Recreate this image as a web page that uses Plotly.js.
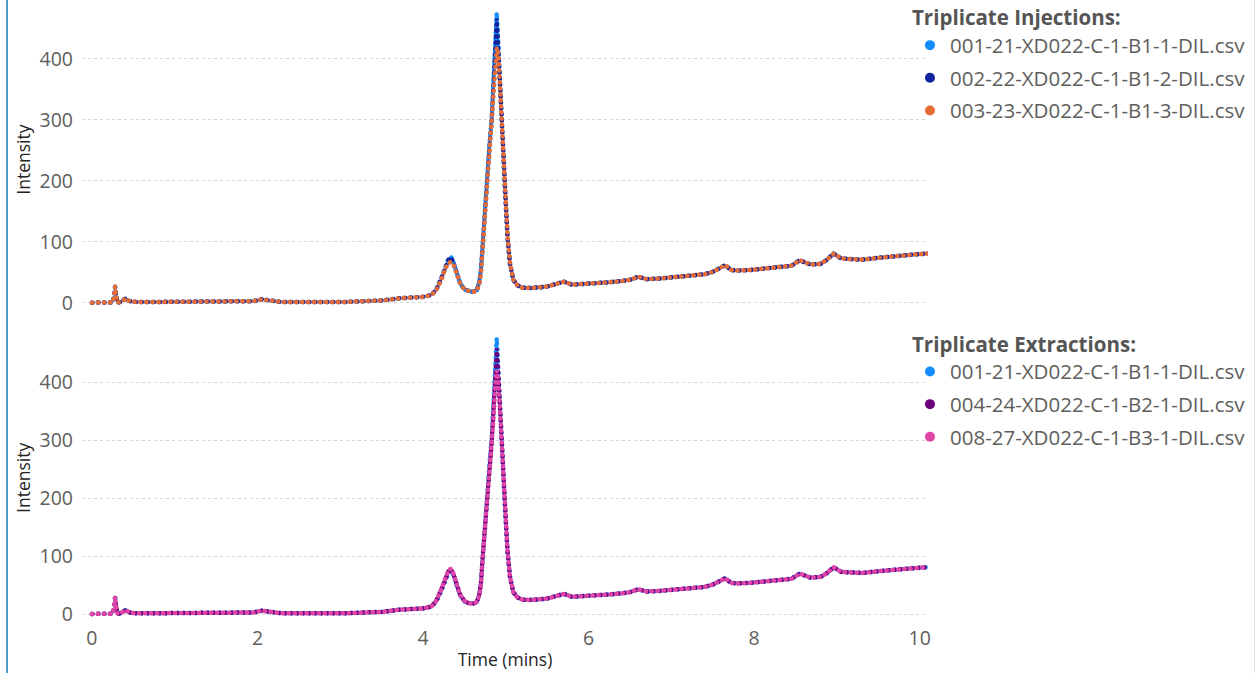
<!DOCTYPE html>
<html>
<head>
<meta charset="utf-8">
<script src="https://cdn.plot.ly/plotly-3.0.1.min.js"></script>
<style>
  html, body { margin: 0; padding: 0; background: #fff; }
  #wrap { position: relative; width: 1258px; height: 673px; overflow: hidden; }
  #chart { position: absolute; left: 0; top: 0; width: 1258px; height: 673px; }
  #lb { position: absolute; left: 6px; top: 0; width: 2px; height: 673px; background: #4a9cc6; }
  #rb { position: absolute; left: 1254px; top: 0; width: 1px; height: 673px; background: #e3e0e6; }
  .scatterlayer .js-line { stroke-linecap: round !important; }
</style>
</head>
<body>
<div id="wrap"><div id="chart"></div><div id="lb"></div><div id="rb"></div></div>
<script>
// Retention time (mins)
const time = [0, 0.1, 0.2, 0.25, 0.27, 0.28, 0.29, 0.31, 0.34, 0.38, 0.41, 0.44, 0.48, 0.6, 0.8, 1.0, 1.2, 1.4, 1.6, 1.8, 1.95, 2.05, 2.15, 2.3, 2.5, 2.7, 2.9, 3.1, 3.3, 3.5, 3.7, 3.9, 4.0, 4.1, 4.16, 4.22, 4.27, 4.31, 4.34, 4.37, 4.41, 4.45, 4.5, 4.55, 4.6, 4.65, 4.68, 4.70, 4.72, 4.75, 4.77, 4.80, 4.83, 4.85, 4.87, 4.89, 4.91, 4.93, 4.95, 4.97, 4.99, 5.02, 5.05, 5.09, 5.14, 5.2, 5.3, 5.4, 5.5, 5.6, 5.7, 5.8, 5.95, 6.1, 6.25, 6.4, 6.5, 6.6, 6.7, 6.85, 7.0, 7.2, 7.4, 7.5, 7.58, 7.65, 7.72, 7.8, 7.95, 8.1, 8.3, 8.45, 8.55, 8.6, 8.68, 8.8, 8.88, 8.96, 9.05, 9.15, 9.3, 9.5, 9.7, 9.9, 10.1];

// Series intensities
const s001 = [0.5, 0.5, 0.5, 1, 12, 27, 14, 0.5, 1.5, 5, 7.5, 4, 2, 1.5, 1.5, 1.5, 1.5, 1.5, 1.5, 1.5, 3, 6, 4, 1.5, 1.5, 2.5, 1.8, 1.8, 2, 4, 7.5, 9, 10, 13, 22, 40, 60, 73, 75, 66, 48, 32, 22, 19, 18, 21, 35, 55, 100, 150, 200, 255, 305, 355, 410, 475, 420, 355, 300, 240, 180, 110, 65, 38, 29, 25, 24.5, 25, 27, 31, 35, 30, 31, 32, 34, 36, 38, 43, 39, 40, 42, 44, 47, 51, 57, 62, 54, 53, 54, 56, 58, 61, 70, 68, 63, 64, 71, 81, 73, 72, 71, 74, 77, 79, 81];
const s002 = [0.5, 0.5, 0.5, 1, 12, 26, 14, 0.5, 1.5, 5, 7.5, 4, 2, 1.5, 1.5, 1.5, 1.5, 1.5, 1.5, 1.5, 3, 6, 4, 1.5, 1.5, 2.5, 1.8, 1.8, 2, 4, 7.5, 9, 10, 13, 22, 40, 60, 72, 74, 65, 48, 32, 22, 19, 18, 21, 34, 54, 98, 148, 198, 252, 300, 350, 402, 466, 415, 352, 298, 238, 178, 108, 64, 38, 29, 25, 24.5, 25, 27, 31, 35, 30, 31, 32, 34, 36, 38, 43, 39, 40, 42, 44, 47, 51, 57, 62, 54, 53, 54, 56, 58, 61, 70, 68, 63, 64, 71, 81, 73, 72, 71, 74, 77, 79, 81];
const s003 = [0.5, 0.5, 0.5, 1, 12, 27, 14, 0.5, 1.5, 5, 7.5, 4, 2, 1.5, 1.5, 1.5, 1.5, 1.5, 1.5, 1.5, 3, 6, 4, 1.5, 1.5, 2.5, 1.8, 1.8, 2, 4, 7.5, 9, 10, 13, 21, 38, 57, 66, 67, 62, 47, 32, 22, 19, 18, 20, 31, 50, 90, 138, 185, 238, 285, 330, 385, 418, 408, 350, 298, 240, 182, 112, 66, 38, 29, 25, 24.5, 25, 27, 31, 35, 30, 31, 32, 34, 36, 38, 43, 39, 40, 42, 44, 47, 51, 57, 62, 54, 53, 54, 56, 58, 61, 70, 68, 63, 64, 71, 81, 73, 72, 71, 74, 77, 79, 81];
const s004 = [0.5, 0.5, 0.5, 1, 12, 28, 14, 0.5, 1.5, 5, 7, 4, 2, 1.5, 1.5, 1.5, 1.5, 1.5, 1.5, 1.5, 3, 6, 4, 1.5, 1.5, 2.5, 1.8, 1.8, 2, 4, 7.5, 9, 10, 13, 23, 42, 62, 75, 77, 68, 50, 33, 23, 19, 18, 21, 34, 54, 98, 148, 198, 250, 298, 348, 400, 458, 412, 350, 297, 238, 178, 108, 64, 38, 29, 25, 24.5, 25, 27, 31, 35, 30, 31, 32, 34, 36, 38, 43, 39, 40, 42, 44, 47, 51, 57, 62, 54, 53, 54, 56, 58, 61, 70, 68, 63, 64, 71, 81, 73, 72, 71, 74, 77, 79, 81];
const s008 = [0.5, 0.5, 0.5, 1, 13, 30, 15, 0.5, 1.5, 5, 7, 4, 2, 1.5, 1.5, 1.5, 1.5, 1.5, 1.5, 1.5, 3, 6, 4, 1.5, 1.5, 2.5, 1.8, 1.8, 2, 4, 7.5, 9, 10, 13, 23, 43, 64, 77, 78, 69, 50, 33, 23, 19, 18, 21, 33, 52, 95, 142, 190, 242, 290, 336, 388, 420, 405, 346, 296, 238, 180, 110, 65, 38, 29, 25, 24.5, 25, 27, 31, 35, 30, 31, 32, 34, 36, 38, 43, 39, 40, 42, 44, 47, 51, 57, 62, 54, 53, 54, 56, 58, 61, 70, 68, 63, 64, 71, 81, 73, 72, 71, 74, 77, 79, 81];

const injNames = ['001-21-XD022-C-1-B1-1-DIL.csv', '002-22-XD022-C-1-B1-2-DIL.csv', '003-23-XD022-C-1-B1-3-DIL.csv'];
const extNames = ['001-21-XD022-C-1-B1-1-DIL.csv', '004-24-XD022-C-1-B2-1-DIL.csv', '008-27-XD022-C-1-B3-1-DIL.csv'];
const injSeries = [s001, s002, s003];
const extSeries = [s001, s004, s008];
const injColors = ['#118DFF', '#12239E', '#E66C37'];
const extColors = ['#118DFF', '#6B007B', '#E044A7'];
const yTicks = [0, 100, 200, 300, 400];
const xTicks = [0, 2, 4, 6, 8, 10];

const traces = [];
function addPanel(names, series, colors, xa, ya, leg, grpPrefix) {
  names.forEach((n, i) => {
    traces.push({
      x: time, y: series[i], xaxis: xa, yaxis: ya, type: 'scatter', mode: 'lines',
      line: { color: colors[i], width: 4.5, dash: '0.5px,5.5px' },
      name: n, showlegend: false, hoverinfo: 'x+y+name'
    });
  });
  names.forEach((n, i) => {
    traces.push({
      x: [null], y: [null], xaxis: xa, yaxis: ya, type: 'scatter', mode: 'markers',
      marker: { color: colors[i], size: 10 }, name: n, legend: leg,
      legendgroup: grpPrefix + i, showlegend: true
    });
  });
}
addPanel(injNames, injSeries, injColors, 'x', 'y', 'legend', 'inj');
addPanel(extNames, extSeries, extColors, 'x2', 'y2', 'legend2', 'ext');

const fontFam = '"Segoe UI", "Open Sans", "Noto Sans", sans-serif';
const tickFont = { family: fontFam, size: 19.5, color: '#605E5C' };
const titleFont = { family: fontFam, size: 17.5, color: '#252423' };

function yax(domain) {
  return {
    domain: domain, range: [-10, 480], tickvals: yTicks, ticktext: yTicks.map(String),
    showgrid: true, gridcolor: '#D6D6D6', griddash: 'dot', gridwidth: 1,
    zeroline: false, showline: false, ticks: '', ticklabelstandoff: 8,
    tickfont: tickFont, title: { text: 'Intensity', font: titleFont, standoff: 4 }
  };
}
function legendCfg(title, y) {
  return {
    title: { text: '<b>' + title + '</b>', font: { family: fontFam, size: 20.5, color: '#555555' } },
    x: 0.9787, xanchor: 'left', y: y, yanchor: 'top', traceorder: 'grouped',
    tracegroupgap: 3, font: { family: fontFam, size: 20.5, color: '#605E5C' },
    bgcolor: 'rgba(0,0,0,0)', borderwidth: 0, itemsizing: 'trace'
  };
}

const layout = {
  width: 1258, height: 673,
  margin: { l: 82, r: 330, t: 10, b: 53, autoexpand: false },
  paper_bgcolor: '#ffffff', plot_bgcolor: '#ffffff',
  font: { family: fontFam },
  xaxis: {
    domain: [0, 1], range: [-0.12, 10.1], anchor: 'y', matches: 'x2',
    showticklabels: false, showgrid: false, zeroline: false, showline: false, ticks: ''
  },
  xaxis2: {
    domain: [0, 1], range: [-0.12, 10.1], anchor: 'y2', tickvals: xTicks,
    showgrid: false, zeroline: false, showline: false, ticks: '', ticklabelstandoff: 4,
    tickfont: tickFont, title: { text: 'Time (mins)', font: titleFont, standoff: 4 }
  },
  yaxis: Object.assign(yax([0.5097, 1]), { anchor: 'x' }),
  yaxis2: Object.assign(yax([0, 0.4662]), { anchor: 'x2' }),
  legend: legendCfg('Triplicate Injections:', 1.0186),
  legend2: legendCfg('Triplicate Extractions:', 0.4836),
  showlegend: true
};

Plotly.newPlot('chart', traces, layout, { displayModeBar: false, staticPlot: false });
</script>
</body>
</html>
